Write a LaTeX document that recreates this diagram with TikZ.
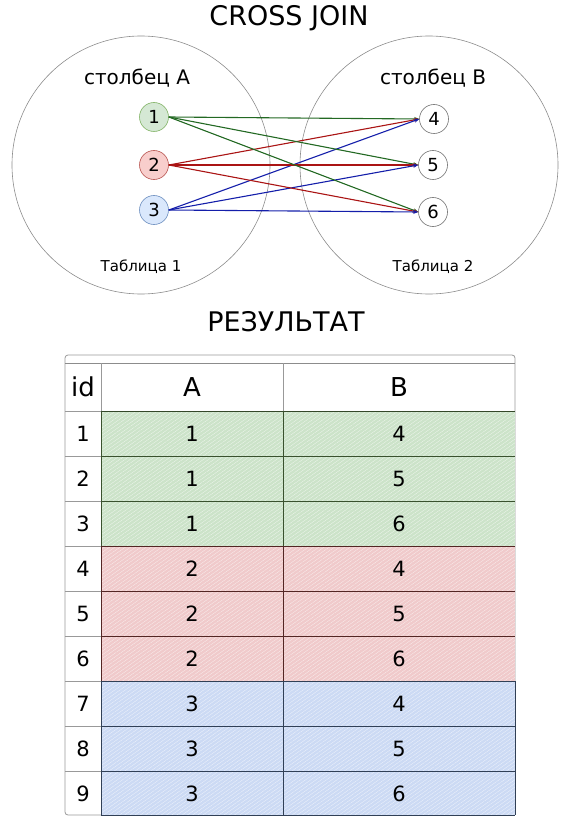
\documentclass[tikz,border=0pt]{standalone}
\usepackage{fontspec}
\setmainfont{DejaVu Sans}
\usetikzlibrary{arrows.meta,patterns.meta}
\definecolor{gfill}{HTML}{D5E8D4}
\definecolor{gdraw}{HTML}{82B366}
\definecolor{rfill}{HTML}{F8CECC}
\definecolor{rdraw}{HTML}{B85450}
\definecolor{bfill}{HTML}{DAE8FC}
\definecolor{bdraw}{HTML}{6C8EBF}
\definecolor{garr}{RGB}{35,105,35}
\definecolor{rarr}{RGB}{170,20,20}
\definecolor{barr}{RGB}{20,30,170}
\definecolor{rowgreen}{HTML}{CCE3C9}
\definecolor{rowred}{HTML}{F0CACB}
\definecolor{rowblue}{HTML}{CCDAF4}
\tikzset{
  setcircle/.style={draw=black!45, line width=0.6pt, circle, minimum size=258pt, inner sep=0pt},
  valnode/.style={circle, minimum size=29pt, inner sep=0pt, line width=0.6pt, font=\fontsize{18}{22}\selectfont},
  conn/.style={line width=1.1pt, -{Stealth[length=5pt,width=4pt]}},
  lbl/.style={font=\fontsize{20}{24}\selectfont},
  tbl/.style={font=\fontsize{15}{18}\selectfont},
  cell/.style={font=\fontsize{21}{24}\selectfont},
  headcell/.style={font=\fontsize{26}{30}\selectfont},
  hatch/.style={pattern={Lines[angle=35,distance=3pt,line width=0.3pt]}, pattern color=white!70!#1},
}
\begin{document}
\begin{tikzpicture}[x=1pt,y=-1pt]
\useasboundingbox (0,0) rectangle (567,818);
% title
\node[font=\fontsize{27}{32}\selectfont] (title) at (289,18) {CROSS JOIN};
% set circles
\node[setcircle] (t1) at (141,165) {};
\node[setcircle] (t2) at (429,165) {};
\node[lbl] (ca) at (137,78) {столбец A};
\node[lbl] (cb) at (433,78) {столбец B};
\node[tbl] (tn1) at (141,267) {Таблица 1};
\node[tbl] (tn2) at (433,267) {Таблица 2};
% value nodes
\node[valnode, draw=gdraw, fill=gfill] (a1) at (154,117) {1};
\node[valnode, draw=rdraw, fill=rfill] (a2) at (154,165) {2};
\node[valnode, draw=bdraw, fill=bfill] (a3) at (154,210) {3};
\node[valnode, draw=black!55, fill=white] (b4) at (434,119) {4};
\node[valnode, draw=black!55, fill=white] (b5) at (433,165) {5};
\node[valnode, draw=black!55, fill=white] (b6) at (433,212) {6};
% connectors
\foreach \t in {b4,b5,b6} {
  \draw[conn, garr] (a1.east) -- (\t.west);
  \draw[conn, rarr] (a2.east) -- (\t.west);
  \draw[conn, barr] (a3.east) -- (\t.west);
}
% result title
\node[font=\fontsize{27}{32}\selectfont] (res) at (286,322) {РЕЗУЛЬТАТ};
% table
\draw[black!40, line width=0.8pt, rounded corners=3pt] (65,355) rectangle (515,815);
\draw[black!45, line width=0.8pt] (65,363) -- (515,363);
% row fills
\foreach \i/\c in {1/rowgreen,2/rowgreen,3/rowgreen,4/rowred,5/rowred,6/rowred,7/rowblue,8/rowblue,9/rowblue} {
  \pgfmathsetmacro{\ytop}{411+45*(\i-1)}
  \pgfmathsetmacro{\ybot}{min(411+45*\i,815)}
  \fill[fill=\c] (101,\ytop) rectangle (515,\ybot);
  \fill[hatch=\c] (101,\ytop) rectangle (515,\ybot);
}
% grid lines
\draw[black!40, line width=0.7pt] (101,363) -- (101,411);
\draw[black!40, line width=0.7pt] (283,363) -- (283,411);
\draw[black!40, line width=0.7pt] (65,411) -- (101,411);
\draw[black!60!gdraw, line width=0.7pt] (101,411) -- (515,411);
\foreach \i/\c in {1/gdraw,2/gdraw,3/rdraw,4/rdraw,5/rdraw,6/bdraw,7/bdraw,8/bdraw} {
  \pgfmathsetmacro{\yy}{411+45*\i}
  \draw[black!40, line width=0.7pt] (65,\yy) -- (101,\yy);
  \draw[black!55!\c, line width=0.7pt] (101,\yy) -- (515,\yy);
}
\draw[black!55!gdraw, line width=0.7pt] (101,411) -- (101,546) (283,411) -- (283,546);
\draw[black!55!rdraw, line width=0.7pt] (101,546) -- (101,681) (283,546) -- (283,681);
\draw[black!55!bdraw, line width=0.7pt] (101,681) -- (101,815) (283,681) -- (283,815) (101,815) -- (515,815);
\draw[black!55!bdraw, line width=0.7pt] (515,681) -- (515,815);
% headers
\node[headcell] (hid) at (83,387) {id};
\node[headcell] (hA) at (192,387) {A};
\node[headcell] (hB) at (399,387) {B};
% cells
\foreach \i/\a/\b in {1/1/4,2/1/5,3/1/6,4/2/4,5/2/5,6/2/6,7/3/4,8/3/5,9/3/6} {
  \pgfmathsetmacro{\yc}{433.5+45*(\i-1)}
  \node[cell] (id\i) at (83,\yc) {\i};
  \node[cell] (ca\i) at (192,\yc) {\a};
  \node[cell] (cb\i) at (399,\yc) {\b};
}
\end{tikzpicture}
\end{document}
